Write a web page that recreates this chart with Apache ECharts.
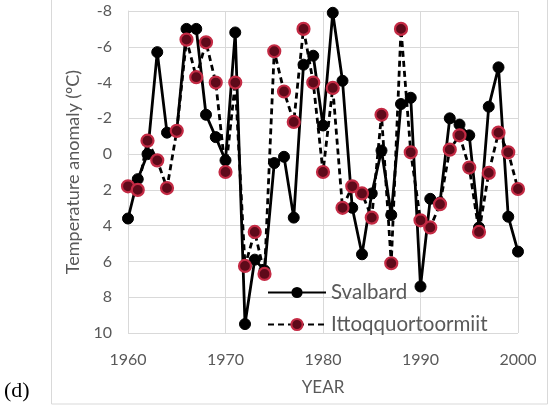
<!DOCTYPE html>
<html>
<head>
<meta charset="utf-8">
<script src="https://cdn.jsdelivr.net/npm/echarts@6/dist/echarts.min.js"></script>
<style>
html,body{margin:0;padding:0;background:#fff;}
#c{width:551px;height:411px;}
</style>
</head>
<body>
<div id="c"></div>
<script>
var years = [1960,1961,1962,1963,1964,1965,1966,1967,1968,1969,1970,1971,1972,1973,1974,1975,1976,1977,1978,1979,1980,1981,1982,1983,1984,1985,1986,1987,1988,1989,1990,1991,1992,1993,1994,1995,1996,1997,1998,1999,2000];
var svalbard = [3.6,1.4,0.0,-5.7,-1.2,-1.3,-7.0,-7.0,-2.2,-0.95,0.35,-6.8,9.5,5.9,6.5,0.5,0.15,3.55,-5.0,-5.5,-1.6,-7.9,-4.1,3.0,5.6,2.2,-0.2,3.4,-2.8,-3.15,7.4,2.5,2.7,-2.0,-1.65,-1.05,4.1,-2.65,-4.85,3.5,5.45];
var ittoq = [1.8,2.0,-0.75,0.35,1.9,-1.3,-6.4,-4.3,-6.25,-4.0,1.0,-4.0,6.25,4.35,6.7,-5.75,-3.5,-1.8,-7.0,-4.0,1.0,-3.7,3.0,1.8,2.2,3.55,-2.2,6.1,-7.0,-0.1,3.7,4.1,2.8,-0.25,-1.05,0.75,4.35,1.05,-1.2,-0.1,1.95];
var seriesNames = ['Svalbard','Ittoqquortoormiit'];
var xTitle = 'YEAR';
var yTitle = 'Temperature anomaly (ºC)';
var panelLabel = '(d)';

function pairs(v){ return years.map(function(y,i){ return [y, v[i]]; }); }

var font = 'Lato, "Open Sans", sans-serif';
var grey = '#595959';
var chart = echarts.init(document.getElementById('c'), null, {renderer:'canvas'});
chart.setOption({
  animation:false,
  backgroundColor:'#fff',
  grid:{left:128, right:33, top:11, bottom:78, containLabel:false},
  graphic:[
    {type:'rect', shape:{x:51.5, y:-5, width:496, height:409}, style:{fill:null, stroke:'#d9d9d9', lineWidth:1}, z:-10},
    {type:'text', left:4, top:380, style:{text:panelLabel, font:'22px "Liberation Serif", "DejaVu Serif", serif', fill:'#000'}}
  ],
  xAxis:{
    type:'value', min:1960, max:2000, interval:10,
    name:xTitle, nameLocation:'middle', nameGap:46,
    nameTextStyle:{color:grey, fontSize:17, fontFamily:font},
    axisLine:{show:true, lineStyle:{color:'#d9d9d9'}},
    axisTick:{show:false},
    axisLabel:{color:grey, fontSize:16, fontFamily:font, margin:19, formatter:function(v){return String(v);}},
    splitLine:{show:true, lineStyle:{color:'#d9d9d9', width:1}}
  },
  yAxis:{
    type:'value', min:-8, max:10, interval:2, inverse:true,
    name:yTitle, nameLocation:'middle', nameGap:44, nameRotate:90,
    nameTextStyle:{color:grey, fontSize:18, fontFamily:font},
    axisLine:{show:true, lineStyle:{color:'#d9d9d9'}},
    axisTick:{show:false},
    axisLabel:{color:grey, fontSize:16, fontFamily:font, margin:16},
    splitLine:{show:true, lineStyle:{color:'#d9d9d9', width:1}}
  },
  legend:{
    orient:'vertical', left:262, top:277, itemWidth:58, itemHeight:14, itemGap:11,
    textStyle:{color:grey, fontSize:20.5, fontFamily:font},
    data:seriesNames
  },
  series:[
    {name:seriesNames[0], type:'line', data:pairs(svalbard),
     symbol:'circle', symbolSize:11,
     lineStyle:{color:'#000', width:2.8},
     itemStyle:{color:'#000', borderColor:'#000'}, z:2},
    {name:seriesNames[1], type:'line', data:pairs(ittoq),
     symbol:'circle', symbolSize:12,
     lineStyle:{color:'#000', width:2.8, type:[6,4]},
     itemStyle:{color:'#5e0a1a', borderColor:'#c42a44', borderWidth:2.2}, z:3}
  ]
});
</script>
</body>
</html>
